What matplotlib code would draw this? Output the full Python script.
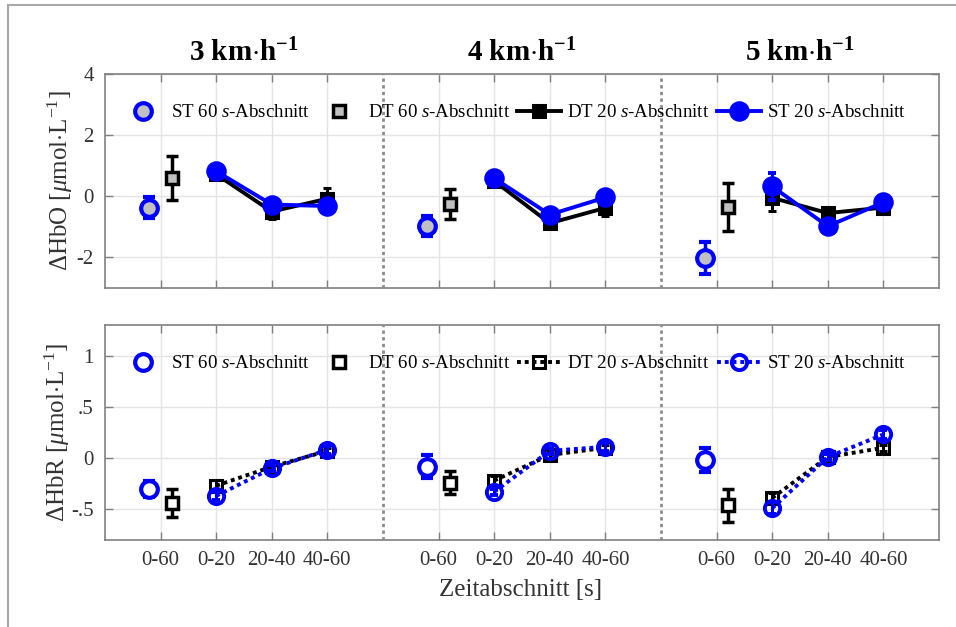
import matplotlib
matplotlib.use('Agg')
import matplotlib.pyplot as plt
from matplotlib.lines import Line2D
import numpy as np

plt.rcParams['font.family'] = ['Liberation Serif', 'DejaVu Serif']
plt.rcParams['mathtext.fontset'] = 'custom'
plt.rcParams['mathtext.rm'] = 'Liberation Serif'
plt.rcParams['mathtext.it'] = 'Liberation Serif:italic'
plt.rcParams['mathtext.bf'] = 'Liberation Serif:bold'

# Data
speeds = ['3', '4', '5']
segments = ['0-60', '0-20', '20-40', '40-60']

hbo_st60 = [-0.37, -0.97, -2.03]
hbo_st60_err = [0.35, 0.32, 0.52]
hbo_dt60 = [0.60, -0.25, -0.35]
hbo_dt60_err = [0.73, 0.50, 0.77]
hbo_st20 = [[0.82, -0.27, -0.32], [0.59, -0.60, -0.04], [0.32, -0.98, -0.20]]
hbo_st20_err = [[0.12, 0.12, 0.12], [0.12, 0.12, 0.12], [0.45, 0.12, 0.12]]
hbo_dt20 = [[0.72, -0.50, -0.08], [0.50, -0.88, -0.38], [-0.05, -0.55, -0.37]]
hbo_dt20_err = [[0.15, 0.25, 0.35], [0.15, 0.15, 0.25], [0.43, 0.15, 0.15]]

hbr_st60 = [-0.30, -0.085, -0.02]
hbr_st60_err = [0.08, 0.11, 0.12]
hbr_dt60 = [-0.44, -0.24, -0.46]
hbr_dt60_err = [0.14, 0.11, 0.16]
hbr_st20 = [[-0.37, -0.10, 0.08], [-0.33, 0.07, 0.11], [-0.49, 0.01, 0.23]]
hbr_st20_err = [[0.04, 0.03, 0.04], [0.03, 0.03, 0.04], [0.06, 0.03, 0.04]]
hbr_dt20 = [[-0.27, -0.085, 0.07], [-0.22, 0.03, 0.10], [-0.39, 0.01, 0.10]]
hbr_dt20_err = [[0.06, 0.04, 0.03], [0.04, 0.03, 0.03], [0.05, 0.03, 0.03]]

BLUE = '#0000ff'
GRAY = '#c0c0c0'
AXC = '#808080'
TXT = '#333333'

fig = plt.figure(figsize=(9.56, 6.27), dpi=100)
ax1 = fig.add_axes([0.1098, 0.5407, 0.8724, 0.3413])
ax2 = fig.add_axes([0.1098, 0.1388, 0.8724, 0.3430])

# figure frame (gray lines left and top)
fig.add_artist(Line2D([8/956, 8/956], [0, 1 - 5/627], color='#a8a8a8', lw=1.5))
fig.add_artist(Line2D([8/956, 1], [1 - 5/627, 1 - 5/627], color='#a8a8a8', lw=1.5))


def draw(ax, st60, st60e, dt60, dt60e, st20, st20e, dt20, dt20e, filled):
    ls = '-' if filled else (0, (1, 1))
    fill60 = GRAY if filled else 'white'
    ms_c = 12 if filled else 11
    for g in range(3):
        base = 5 * g
        x20 = base + np.array([2, 3, 4])
        # 60 s bars
        ax.errorbar(base + 0.8, st60[g], yerr=st60e[g], fmt='o', ms=12, mew=3,
                    mec=BLUE, mfc=fill60, ecolor=BLUE, elinewidth=2.5,
                    capsize=4, capthick=2.5, zorder=4)
        ax.errorbar(base + 1.2, dt60[g], yerr=dt60e[g], fmt='s', ms=9, mew=2.5,
                    mec='black', mfc=fill60, ecolor='black', elinewidth=2.5,
                    capsize=4, capthick=2.5, zorder=4)
        # 20 s lines
        ax.errorbar(x20, dt20[g], yerr=dt20e[g], fmt='s', ls=ls, lw=2.8,
                    color='black', ms=9, mew=2.2,
                    mfc='black' if filled else 'none', elinewidth=2.2,
                    capsize=3, capthick=2, zorder=5)
        ax.errorbar(x20, st20[g], yerr=st20e[g], fmt='o', ls=ls, lw=2.8,
                    color=BLUE, ms=ms_c, mew=2.8,
                    mfc=BLUE if filled else 'none', elinewidth=2.2,
                    capsize=3, capthick=2, zorder=6)
    for xv in [5, 10]:
        ax.axvline(xv, color='#8c8c8c', ls=(0, (1.2, 1.2)), lw=2, zorder=3)

    handles = [
        Line2D([], [], ls='none', marker='o', ms=12, mew=3, mec=BLUE, mfc=fill60),
        Line2D([], [], ls='none', marker='s', ms=9, mew=2.5, mec='black', mfc=fill60),
        Line2D([], [], ls=ls, lw=2.8, color='black', marker='s', ms=9, mew=2.2,
               mfc='black' if filled else 'none'),
        Line2D([], [], ls=ls, lw=2.8, color=BLUE, marker='o', ms=ms_c,
               mew=2.8, mfc=BLUE if filled else 'none'),
    ]
    labels = [r'ST $\mathit{60\ s}$-Abschnitt', r'DT $\mathit{60\ s}$-Abschnitt',
              r'DT $\mathit{20\ s}$-Abschnitt', r'ST $\mathit{20\ s}$-Abschnitt']
    ax.legend(handles, labels, loc='upper center', ncol=4, frameon=False,
              fontsize=13.6, handlelength=2.3, handletextpad=0.35,
              columnspacing=0.4, bbox_to_anchor=(0.49, 0.895), borderaxespad=0)

    ax.set_xlim(0, 15)
    ticks = [5 * g + k for g in range(3) for k in [1, 2, 3, 4]]
    ax.set_xticks(ticks)
    ax.grid(True, color='#e4e4e4', lw=1)
    ax.set_axisbelow(True)
    ax.tick_params(direction='in', top=True, right=True, length=6, width=1,
                   color=AXC, labelcolor=TXT, labelsize=15, pad=8)
    for sp in ax.spines.values():
        sp.set_color(AXC)
        sp.set_linewidth(1.2)


draw(ax1, hbo_st60, hbo_st60_err, hbo_dt60, hbo_dt60_err,
     hbo_st20, hbo_st20_err, hbo_dt20, hbo_dt20_err, True)
draw(ax2, hbr_st60, hbr_st60_err, hbr_dt60, hbr_dt60_err,
     hbr_st20, hbr_st20_err, hbr_dt20, hbr_dt20_err, False)

ax1.set_ylim(-3, 4)
ax1.set_yticks([-2, 0, 2, 4])
ax1.set_yticklabels(['-2', '0', '2', '4'])
ax1.set_xticklabels([])

ax2.set_ylim(-0.8, 1.3)
ax2.set_yticks([-0.5, 0, 0.5, 1])
ax2.set_yticklabels(['-.5', '0', '.5', '1'])
ax2.set_xticklabels(segments * 3)

ax1.set_ylabel(r'$\Delta$HbO [$\mu$mol$\cdot$L$^{-1}$]', fontsize=18, color=TXT)
ax2.set_ylabel(r'$\Delta$HbR [$\mu$mol$\cdot$L$^{-1}$]', fontsize=18, color=TXT)
ax1.yaxis.set_label_coords(-0.036, 0.5)
ax2.yaxis.set_label_coords(-0.040, 0.5)

for g, sp in enumerate(speeds):
    ax1.text(5 * g + 2.5, 1.03, sp + r' km$\cdot$h$^{\mathbf{-1}}$',
             transform=ax1.get_xaxis_transform(), ha='center', va='bottom',
             fontsize=21, fontweight='bold')

fig.text(0.545, 1 - 590/627, 'Zeitabschnitt [s]', ha='center', va='center',
         fontsize=18, color=TXT)

fig.savefig('out.png', dpi=100)
